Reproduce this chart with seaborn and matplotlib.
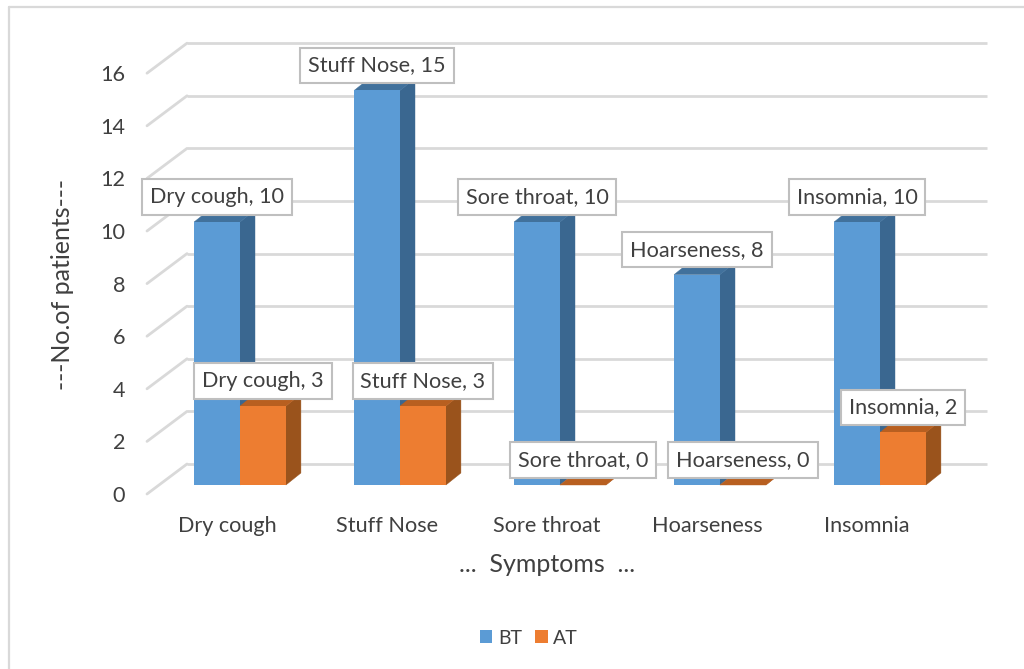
import numpy as np
import pandas as pd
import seaborn as sns
import matplotlib
matplotlib.use("Agg")
import matplotlib.pyplot as plt
from matplotlib.lines import Line2D
from matplotlib.patches import Polygon
from matplotlib.transforms import Affine2D

symptoms = ["Dry cough", "Stuff Nose", "Sore throat", "Hoarseness", "Insomnia"]
bt_values = [10, 15, 10, 8, 10]
at_values = [3, 3, 0, 0, 2]
series_names = ["BT", "AT"]
y_ticks = [0, 2, 4, 6, 8, 10, 12, 14, 16]

COL = {"BT": "#5B9BD5", "AT": "#ED7D31"}
SIDE = {"BT": "#3A6790", "AT": "#9A531C"}
TOP = {"BT": "#41719C", "AT": "#B85F20"}
TXT = "#404040"
GRID = "#D9D9D9"

sns.set_theme(style="white")
plt.rcParams["font.family"] = ["Lato", "DejaVu Sans"]

W, H = 1024, 669
fig = plt.figure(figsize=(W / 100, H / 100), dpi=100)
PX_UNIT = 26.3
YMIN, YMAX = -0.7, 17
left, right = 160, 960
y0 = 485
top_px = y0 - YMAX * PX_UNIT
bot_px = y0 - YMIN * PX_UNIT
ax = fig.add_axes([left / W, 1 - bot_px / H, (right - left) / W, (bot_px - top_px) / H])
ax.patch.set_alpha(0)

df = pd.DataFrame({
    "Symptom": symptoms * 2,
    "Series": [series_names[0]] * 5 + [series_names[1]] * 5,
    "Patients": bt_values + at_values,
})
sns.barplot(data=df, x="Symptom", y="Patients", hue="Series", order=symptoms,
            hue_order=series_names, palette=COL, width=0.574, gap=0, dodge=True,
            saturation=1, ax=ax, legend=False, linewidth=0)
ax.set_xlim(-0.5, 4.5)
ax.set_ylim(YMIN, YMAX)
sns.despine(ax=ax, left=True, bottom=True)

# 3D wall: grid lines on back plane and slanted floor/wall joints (pixel offsets)
back = Affine2D().translate(27, 21)
front_dx, front_dy = -13, -9
to_back = ax.get_yaxis_transform() + back
for t in y_ticks:
    ax.plot([0, 1], [t, t], transform=to_back, color=GRID, lw=2.0, zorder=0,
            clip_on=False, solid_capstyle="butt")
    p = ax.transData.transform((-0.5, t))
    ax.add_line(Line2D([p[0] + front_dx, p[0] + 27], [p[1] + front_dy, p[1] + 21],
                       transform=None, color=GRID, lw=2.0, zorder=0, clip_on=False))

# depth faces and labels
DX, DY = 15, 12
def poly(pts, color, z):
    ax.add_patch(Polygon(pts, closed=True, transform=None, facecolor=color,
                         edgecolor=color, lw=0.3, zorder=z, clip_on=False))

for k, (name, cont, vals) in enumerate(zip(series_names, ax.containers, [bt_values, at_values])):
    for bar, v, cat in zip(cont.patches, vals, symptoms):
        x0, y_0 = ax.transData.transform((bar.get_x(), 0))
        x1, y1 = ax.transData.transform((bar.get_x() + bar.get_width(), v))
        z = 1.5 + 2 * k
        poly([(x1, y_0), (x1 + DX, y_0 + DY), (x1 + DX, y1 + DY), (x1, y1)], SIDE[name], z)
        poly([(x0, y1), (x1, y1), (x1 + DX, y1 + DY), (x0 + DX, y1 + DY)], TOP[name], z)
        bar.set_zorder(z + 0.5)
        ax.annotate(f"{cat}, {v}", xy=(bar.get_x() + bar.get_width() / 2, v),
                    xytext=(0, 25), textcoords="offset pixels",
                    ha="center", va="center", fontsize=15.6, color=TXT, zorder=6,
                    annotation_clip=False,
                    bbox=dict(boxstyle="square,pad=0.36", fc="white", ec="#BFBFBF", lw=1.5))

# tick labels placed on the front plane
ax.set_xticks(np.arange(5) + front_dx / 160, symptoms)
ax.set_yticks(np.array(y_ticks) + front_dy / PX_UNIT, y_ticks)
ax.tick_params(axis="both", length=0, labelsize=15.6, labelcolor=TXT)
ax.tick_params(axis="x", pad=9)
ax.tick_params(axis="y", pad=25)
ax.set_xlabel("")
ax.set_ylabel("")
fig.text(62 / W, 1 - 285 / H, "---No.of patients---", rotation=90, ha="center", va="center",
         fontsize=18, color=TXT)
fig.text(547 / W, 1 - 564 / H, "...  Symptoms  ...", ha="center", va="center",
         fontsize=18, color=TXT)

handles = [plt.Rectangle((0, 0), 1, 1, fc=COL[n], lw=0) for n in series_names]
fig.legend(handles, series_names, loc="center", bbox_to_anchor=(529 / W, 1 - 638 / H), ncols=2,
           frameon=False, fontsize=14, labelcolor=TXT, handlelength=0.65, handleheight=0.65,
           handletextpad=0.3, columnspacing=0.65)

# outer frame (cropped at right and bottom)
fig.add_artist(Line2D([9 / W, 9 / W], [0, 1 - 7 / H], color=GRID, lw=1.6, transform=fig.transFigure))
fig.add_artist(Line2D([9 / W, 1], [1 - 7 / H, 1 - 7 / H], color=GRID, lw=1.6, transform=fig.transFigure))

fig.savefig("out.png", dpi=100)
